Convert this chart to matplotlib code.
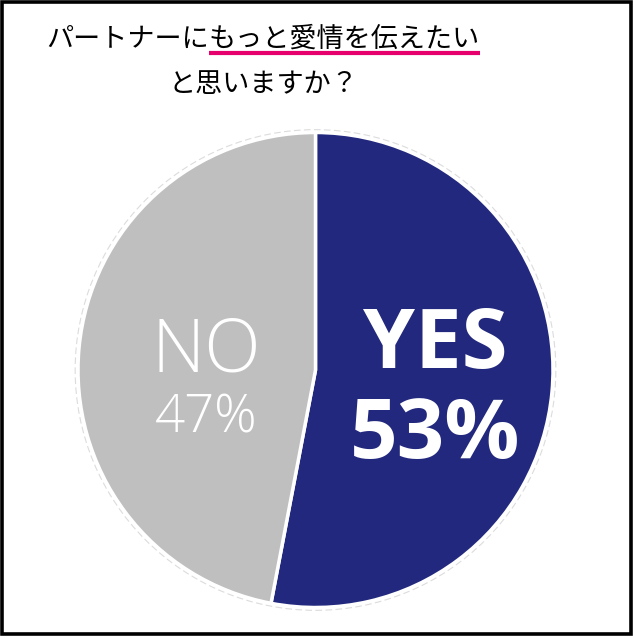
import matplotlib
matplotlib.use('Agg')
import matplotlib.pyplot as plt
from matplotlib.patches import Rectangle, Circle

title_plain = 'パートナーに'
title_marked = 'もっと愛情を伝えたい'
title_line2 = 'と思いますか？'
labels = ['YES', 'NO']
values = [53, 47]
colors = ['#22287d', '#bfbfbf']

W, H = 634, 638
fig = plt.figure(figsize=(W / 100, H / 100), dpi=100)
fig.patch.set_facecolor('white')

# frame around the whole picture
fig.patches.append(Rectangle((2 / W, (H - 634) / H), 628.5 / W, 632 / H,
                             transform=fig.transFigure, fill=False,
                             edgecolor='black', linewidth=2.6))

# title, first line in two pieces so the second can be underlined
jp = ['Noto Sans CJK JP', 'DejaVu Sans']
fs = 19.5
r = fig.canvas.get_renderer()
t1 = fig.text(0, 1 - 39 / H, title_plain, family=jp, fontsize=fs,
              ha='left', va='center', color='black')
t2 = fig.text(0, 1 - 39 / H, title_marked, family=jp, fontsize=fs,
              ha='left', va='center', color='black')
w1 = t1.get_window_extent(r).width
w2 = t2.get_window_extent(r).width
x0 = 263 - (w1 + w2) / 2
t1.set_x(x0 / W)
t2.set_x((x0 + w1) / W)
fig.add_artist(plt.Line2D([(x0 + w1) / W, (x0 + w1 + w2) / W],
                          [1 - 52.5 / H, 1 - 52.5 / H],
                          transform=fig.transFigure, color='#e6006e',
                          linewidth=3, solid_capstyle='butt'))
fig.text(263 / W, 1 - 85 / H, title_line2, family=jp, fontsize=fs,
         ha='center', va='center', color='black')

# pie
cx, cy, rad = 315.5, H - 370, 237.5
ax = fig.add_axes([(cx - rad) / W, (cy - rad) / H, 2 * rad / W, 2 * rad / H])
ax.pie(values, colors=colors, startangle=90, counterclock=False, radius=1,
       wedgeprops=dict(edgecolor='white', linewidth=2.5))
ax.add_patch(Circle((0, 0), 1.012, fill=False, edgecolor='#dcdcdc',
                    linewidth=0.8, linestyle=(0, (6, 3))))
ax.set_xlim(-1.02, 1.02)
ax.set_ylim(-1.02, 1.02)
ax.axis('off')
s = 1.02
ax.set_position([(cx - rad * s) / W, (cy - rad * s) / H, 2 * rad * s / W, 2 * rad * s / H])

ax.text(0.503, 0.008, labels[0], color='white', fontsize=60, fontweight='bold',
        family='Open Sans', ha='center', va='baseline')
ax.text(0.503, -0.371, f'{values[0]}%', color='white', fontsize=60,
        fontweight='bold', family='Open Sans', ha='center', va='baseline')
ax.text(-0.461, -0.008, labels[1], color='white', fontsize=53,
        fontweight='light', family='Open Sans', ha='center', va='baseline')
ax.text(-0.461, -0.265, f'{values[1]}%', color='white', fontsize=38,
        fontweight='light', family='Open Sans', ha='center', va='baseline')

fig.savefig('out.png', dpi=100)
